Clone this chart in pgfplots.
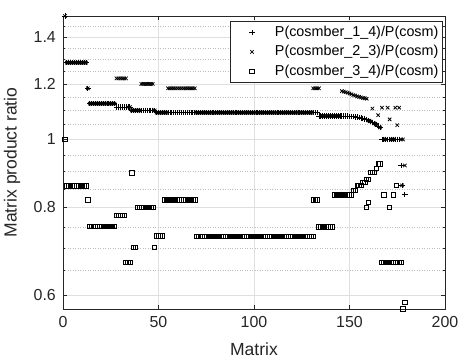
\documentclass[border=0pt]{standalone}
\usepackage{pgfplots}
\pgfplotsset{compat=1.18}
\usepackage{fontspec}
\setmainfont{Liberation Sans}
\definecolor{axc}{HTML}{262626}
\definecolor{gridc}{HTML}{DFDFDF}
\definecolor{mgridc}{HTML}{BEBEBE}
\begin{document}
\begin{tikzpicture}
\begin{axis}[
  width=382bp, height=293bp, scale only axis,
  xmin=0, xmax=200, ymin=0.573, ymax=1.5,
  ymode=log,
  clip=false,
  xtick={0,50,100,150,200}, xticklabels={0,50,100,150,200},
  ytick={0.6,0.8,1,1.2,1.4}, yticklabels={0.6,0.8,1,1.2,1.4},
  minor ytick={0.65,0.7,0.75,0.85,0.9,0.95,1.05,1.1,1.15,1.25,1.3,1.35,1.45},
  xmajorgrids, ymajorgrids, yminorgrids,
  major grid style={draw=gridc, line width=0.5bp},
  minor grid style={draw=mgridc, line width=0.5bp, dotted},
  axis line style={draw=axc, line width=0.7bp},
  every tick/.style={draw=axc, line width=0.6bp},
  major tick length=4bp, minor tick length=2.5bp,
  tick align=inside,
  ticklabel style={font=\fontsize{16}{19}\selectfont, text=axc},
  xticklabel style={inner sep=0pt, anchor=north, yshift=-7bp},
  yticklabel style={inner sep=0pt, anchor=east, xshift=-7bp},
  xlabel={Matrix}, ylabel={Matrix product ratio},
  label style={font=\fontsize{17.6}{21}\selectfont, text=axc},
  xlabel style={at={(axis description cs:0.5,-0.1365)}, anchor=center},
  ylabel style={at={(axis description cs:-0.1335,0.5)}, anchor=center},
  legend style={at={(axis description cs:0.994,0.984)}, anchor=north east,
    draw=axc, line width=0.6bp, fill=white,
    font=\fontsize{14.4}{17}\selectfont, text=black,
    inner xsep=4bp, inner ysep=4.5bp,
    /tikz/column sep=13bp, /tikz/row sep=5.4bp,
    nodes={inner sep=0pt, text height=11bp, text depth=3bp}},
  legend cell align=left,
  mk/.style={only marks, color=black, line width=0.8bp,
    legend image code/.code={\path[draw=none,fill=none] (0bp,-1bp) rectangle (28bp,1bp); \draw[##1,/tikz/only marks] plot coordinates {(18bp,0bp)};}},
]
\addplot[mk, mark=+, mark size=2.7bp] coordinates {
(1,1.5)
(2,1.287)(3,1.287)(4,1.287)(5,1.287)(6,1.287)(7,1.287)(8,1.287)(9,1.287)(10,1.287)(11,1.287)(12,1.287)
(13,1.183)
(14,1.125)(15,1.125)(16,1.125)(17,1.125)(18,1.125)(19,1.125)(20,1.125)(21,1.125)(22,1.125)(23,1.125)(24,1.125)(25,1.125)(26,1.125)(27,1.125)
(28,1.112)(29,1.112)(30,1.112)(31,1.112)(32,1.112)(33,1.112)(34,1.112)(35,1.112)
(36,1.1)(37,1.1)(38,1.1)(39,1.1)(40,1.1)(41,1.1)(42,1.1)(43,1.1)(44,1.1)(45,1.1)(46,1.1)(47,1.1)(48,1.1)
(49,1.092)(50,1.092)(51,1.092)(52,1.092)(53,1.092)(54,1.092)(55,1.092)(56,1.092)(57,1.092)(58,1.092)
(59,1.092)(60,1.092)(61,1.092)(62,1.092)(63,1.092)(64,1.092)(65,1.092)(66,1.092)(67,1.092)(68,1.092)
(69,1.092)(70,1.092)(71,1.092)(72,1.092)(73,1.092)(74,1.092)(75,1.092)(76,1.092)(77,1.092)(78,1.092)
(79,1.092)(80,1.092)(81,1.092)(82,1.092)(83,1.092)(84,1.092)(85,1.092)(86,1.092)(87,1.092)(88,1.092)
(89,1.092)(90,1.092)(91,1.092)(92,1.092)(93,1.092)(94,1.092)(95,1.092)(96,1.092)(97,1.092)(98,1.092)
(99,1.092)(100,1.092)(101,1.092)(102,1.092)(103,1.092)(104,1.092)(105,1.092)(106,1.092)(107,1.092)(108,1.092)
(109,1.092)(110,1.092)(111,1.092)(112,1.092)(113,1.092)(114,1.092)(115,1.092)(116,1.092)(117,1.092)(118,1.092)
(119,1.092)(120,1.092)(121,1.092)(122,1.092)(123,1.092)(124,1.092)(125,1.092)(126,1.092)(127,1.092)(128,1.092)
(129,1.092)(130,1.092)(131,1.092)(132,1.092)(133,1.092)
(134,1.08)(135,1.08)(136,1.08)(137,1.08)(138,1.08)(139,1.08)(140,1.08)(141,1.08)(142,1.08)(143,1.08)
(144,1.08)(145,1.08)(146,1.08)(147,1.08)(148,1.08)(149,1.08)
(150,1.079)(151,1.079)(152,1.078)(153,1.077)(154,1.076)(155,1.075)(156,1.073)(157,1.071)(158,1.069)(159,1.067)
(160,1.064)(161,1.061)(162,1.058)(163,1.054)(164,1.05)(165,1.045)(166,1.04)
(167,1)(168,1)(169,1)(170,1)(171,1)(172,1)(173,1)(174,1)(175,1)(176,1)
(177,0.918)(177.5,0.86)(179,0.834)
};
\addlegendentry{P(cosmber\_1\_4)/P(cosm)}
\addplot[mk, mark=x, mark size=2.4bp] coordinates {
(1,1.5)
(2,1.287)(3,1.287)(4,1.287)(5,1.287)(6,1.287)(7,1.287)(8,1.287)(9,1.287)(10,1.287)(11,1.287)(12,1.287)
(13,1.183)
(14,1.125)(15,1.125)(16,1.125)(17,1.125)(18,1.125)(19,1.125)(20,1.125)(21,1.125)(22,1.125)(23,1.125)(24,1.125)(25,1.125)(26,1.125)(27,1.125)
(28,1.222)(29,1.222)(30,1.222)(31,1.222)(32,1.222)(33,1.222)
(34,1.112)(35,1.112)
(36,1.1)(37,1.1)(38,1.1)(39,1.1)(40,1.1)
(41,1.2)(42,1.2)(43,1.2)(44,1.2)(45,1.2)(46,1.2)(47,1.2)
(48,1.1)
(49,1.092)(50,1.092)(51,1.092)(52,1.092)(53,1.092)(54,1.092)
(55,1.183)(56,1.183)(57,1.183)(58,1.183)(59,1.183)(60,1.183)(61,1.183)(62,1.183)(63,1.183)(64,1.183)
(65,1.183)(66,1.183)(67,1.183)(68,1.183)(69,1.183)
(70,1.092)(71,1.092)(72,1.092)(73,1.092)(74,1.092)(75,1.092)(76,1.092)(77,1.092)(78,1.092)
(79,1.092)(80,1.092)(81,1.092)(82,1.092)(83,1.092)(84,1.092)(85,1.092)(86,1.092)(87,1.092)(88,1.092)
(89,1.092)(90,1.092)(91,1.092)(92,1.092)(93,1.092)(94,1.092)(95,1.092)(96,1.092)(97,1.092)(98,1.092)
(99,1.092)(100,1.092)(101,1.092)(102,1.092)(103,1.092)(104,1.092)(105,1.092)(106,1.092)(107,1.092)(108,1.092)
(109,1.092)(110,1.092)(111,1.092)(112,1.092)(113,1.092)(114,1.092)(115,1.092)(116,1.092)(117,1.092)(118,1.092)
(119,1.092)(120,1.092)(121,1.092)(122,1.092)(123,1.092)(124,1.092)(125,1.092)(126,1.092)(127,1.092)(128,1.092)
(129,1.092)(130,1.092)
(131,1.183)(132,1.183)(133,1.183)(134,1.183)
(135,1.08)(136,1.08)(137,1.08)(138,1.08)(139,1.08)(140,1.08)(141,1.08)(142,1.08)(143,1.08)(144,1.08)(145,1.08)
(146,1.172)(147,1.17)(148,1.168)(149,1.166)(150,1.163)(151,1.16)(152,1.157)(153,1.155)(154,1.152)(155,1.15)
(156,1.148)(157,1.146)(158,1.145)(159,1.143)
(160,1.064)(161,1.061)(162,1.107)(163,1.054)(164,1.05)(165,1.083)(166,1.04)(167,1.11)(168,1)(169,1)
(170,1.11)(171,1.068)(172,1)(173,1)(174,1.11)(175,1.048)(176,1.11)(177,1)(178,1)
(177.5,0.86)(179,0.918)
};
\addlegendentry{P(cosmber\_2\_3)/P(cosm)}
\addplot[mk, mark=square, mark size=2.2bp] coordinates {
(1,1)
(2,0.858)(3,0.858)(4,0.858)(5,0.858)(6,0.858)(7,0.858)(8,0.858)(9,0.858)(10,0.858)(11,0.858)(12,0.858)
(13,0.82)
(14,0.751)(15,0.751)(16,0.751)(17,0.751)(18,0.751)(19,0.751)(20,0.751)(21,0.751)(22,0.751)(23,0.751)(24,0.751)(25,0.751)(26,0.751)(27,0.751)
(28,0.779)(29,0.779)(30,0.779)(31,0.779)(32,0.779)
(33,0.668)(34,0.668)(35,0.668)
(36,0.896)
(37,0.702)(38,0.702)
(39,0.8)(40,0.8)(41,0.8)(42,0.8)(43,0.8)(44,0.8)(45,0.8)(46,0.8)(47,0.8)
(48,0.702)
(49,0.729)(50,0.729)(51,0.729)(52,0.729)
(53,0.82)(54,0.82)(55,0.82)(56,0.82)(57,0.82)(58,0.82)(59,0.82)(60,0.82)(61,0.82)(62,0.82)
(63,0.82)(64,0.82)(65,0.82)(66,0.82)(67,0.82)(68,0.82)(69,0.82)
(70,0.727)(71,0.727)(72,0.727)(73,0.727)(74,0.727)(75,0.727)(76,0.727)(77,0.727)(78,0.727)
(79,0.727)(80,0.727)(81,0.727)(82,0.727)(83,0.727)(84,0.727)(85,0.727)(86,0.727)(87,0.727)(88,0.727)
(89,0.727)(90,0.727)(91,0.727)(92,0.727)(93,0.727)(94,0.727)(95,0.727)(96,0.727)(97,0.727)(98,0.727)
(99,0.727)(100,0.727)(101,0.727)(102,0.727)(103,0.727)(104,0.727)(105,0.727)(106,0.727)(107,0.727)(108,0.727)
(109,0.727)(110,0.727)(111,0.727)(112,0.727)(113,0.727)(114,0.727)(115,0.727)(116,0.727)(117,0.727)(118,0.727)
(119,0.727)(120,0.727)(121,0.727)(122,0.727)(123,0.727)(124,0.727)(125,0.727)(126,0.727)(127,0.727)(128,0.727)
(129,0.727)(130,0.727)(131,0.727)
(131,0.82)(132,0.82)(133,0.82)
(134,0.75)(135,0.75)(136,0.75)(137,0.75)(138,0.75)(139,0.75)(140,0.75)(141,0.75)
(142,0.834)(143,0.834)(144,0.834)(145,0.834)(146,0.834)(147,0.834)(148,0.834)(149,0.834)(150,0.834)(151,0.834)
(152,0.846)(153,0.846)
(154,0.86)(155,0.86)(156,0.86)
(157,0.868)(158,0.868)
(159,0.877)(160,0.877)
(161,0.898)(162,0.898)(163,0.898)
(164,0.91)
(165,0.923)(166,0.923)
(159,0.8)(160,0.814)
(168,0.834)(173,0.834)(171,0.8)(174.5,0.86)
(167,0.668)(168,0.668)(169,0.668)(170,0.668)(171,0.668)(172,0.668)(173,0.668)(174,0.668)(175,0.668)(176,0.668)(177,0.668)
(178,0.573)(179,0.586)
};
\addlegendentry{P(cosmber\_3\_4)/P(cosm)}
\end{axis}
\pgfresetboundingbox
\path ([shift={(-63bp,-49bp)}]current axis.south west) rectangle ([shift={(16bp,16bp)}]current axis.north east);
\end{tikzpicture}
\end{document}
